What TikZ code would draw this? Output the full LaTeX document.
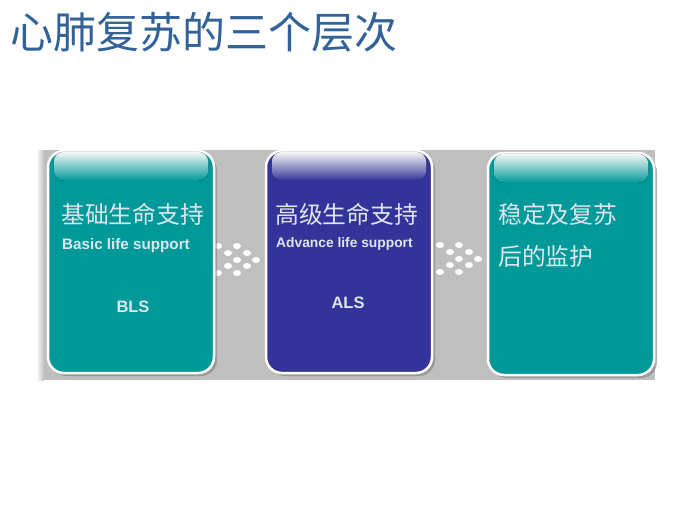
\documentclass[tikz,border=0pt]{standalone}
\usepackage{fontspec}
\setmainfont{Liberation Sans}
\newfontfamily\cjk{Noto Sans CJK SC}
\usepackage{xcolor}
\usetikzlibrary{positioning,shadows,calc}
\definecolor{turquesa}{RGB}{0,153,153}
\definecolor{azul}{RGB}{51,51,153}
\definecolor{titulo}{RGB}{49,99,153}
\definecolor{banda}{RGB}{191,191,191}
\definecolor{letra}{RGB}{222,230,236}

\begin{document}
\begin{tikzpicture}[x=1pt,y=-1pt,node distance=220pt]
\tikzstyle{caja}=[draw=white,line width=2.5pt,rounded corners=16pt,minimum width=166pt,minimum height=222pt,drop shadow={shadow xshift=3pt,shadow yshift=-3pt,opacity=0.6}]
\tikzstyle{chino}=[anchor=west,inner sep=0pt,text=letra,font=\cjk\fontsize{23.8}{26}\selectfont]
\tikzstyle{ingles}=[anchor=west,inner sep=0pt,text=letra,font=\bfseries\fontsize{15.2}{17}\selectfont]
\tikzstyle{sigla}=[inner sep=0pt,text=letra,font=\bfseries\fontsize{16.5}{18}\selectfont]
\tikzstyle{punto}=[fill=white,draw=none]
\useasboundingbox[fill=white] (0,0) rectangle (700,525);
%titulo
\node[anchor=west,inner sep=0pt,text=titulo,font=\cjk\fontsize{43}{46}\selectfont] (tit) at (10,32) {心肺复苏的三个层次};
%banda de fondo
\fill[banda] (38,150) rectangle (655,380);
\shade[left color=white,right color=banda] (36,150) rectangle (44,380);
%puntos entre cajas
\foreach \px/\py in {218/246,237/246,228/253,247/253,237/260,256/260,228/266,247/266,218/273,237/273}
{
  \fill[punto] (\px,\py) ellipse (4 and 3);
  \fill[punto] (\px+222,\py-1) ellipse (4 and 3);
}
%cajas
\node[caja,fill=turquesa] (bls) at (131,262) {};
\node[caja,fill=azul] (als) [right of=bls,xshift=-2pt] {};
\node[caja,fill=turquesa] (post) [right of=als,xshift=2pt,yshift=-2pt] {};
%brillo
\fill[rounded corners=10pt,top color=white!94!gray,bottom color=turquesa] ($(bls.north west)+(7,2)$) rectangle ($(bls.north east)+(-7,31)$);
\fill[rounded corners=10pt,top color=white!94!gray,bottom color=azul] ($(als.north west)+(7,2)$) rectangle ($(als.north east)+(-7,31)$);
\fill[rounded corners=10pt,top color=white!94!gray,bottom color=turquesa] ($(post.north west)+(7,2)$) rectangle ($(post.north east)+(-7,31)$);
%textos
\node[chino] (bls-cn) at (61,214) {基础生命支持};
\node[ingles] (bls-en) at (62,246) {Basic life support};
\node[sigla] (bls-ab) at (133,307) {BLS};
\node[chino] (als-cn) at (275,214) {高级生命支持};
\node[ingles,font=\bfseries\fontsize{13.8}{15}\selectfont] (als-en) at (276,244) {Advance life support};
\node[sigla] (als-ab) at (348,303) {ALS};
\node[chino] (post-cn1) at (498,214) {稳定及复苏};
\node[chino] (post-cn2) at (498,256) {后的监护};
\end{tikzpicture}
\end{document}
